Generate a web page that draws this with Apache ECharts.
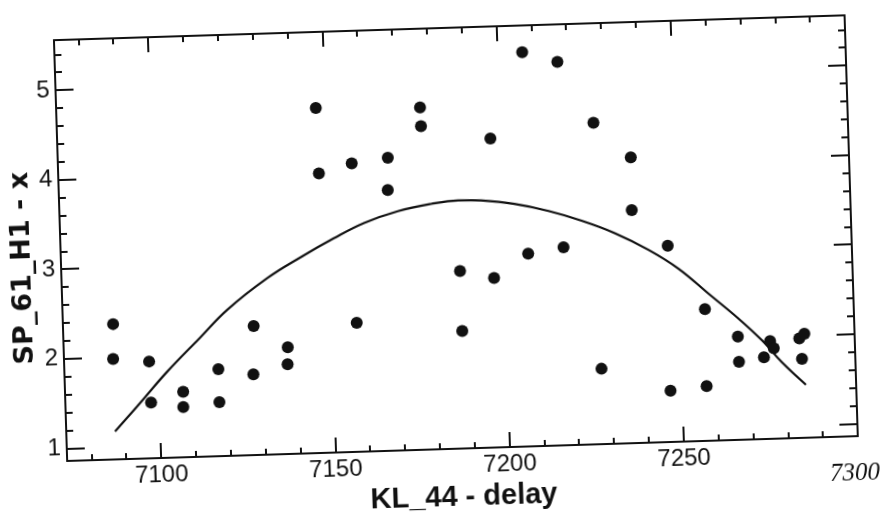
<!DOCTYPE html>
<html>
<head>
<meta charset="utf-8">
<title>SP_61_H1 - x vs KL_44 - delay</title>
<script src="https://cdn.jsdelivr.net/npm/echarts@6/dist/echarts.min.js"></script>
<style>
html, body { margin: 0; padding: 0; background: #fff; overflow: hidden; }
/* the scanned plot sits slightly tilted on the page */
#main { width: 890px; height: 517px; transform: rotate(-1.8deg); transform-origin: 50% 50%; }
</style>
</head>
<body>
<div id="main"></div>
<script>
// measured points
var delay = [7087.4, 7087.1, 7097.4, 7097.6, 7106.9, 7106.8, 7117.2, 7117.2, 7127.7, 7127.2,
  7137.3, 7137.1, 7147.5, 7147.8, 7157.3, 7157.3, 7167.7, 7167.4, 7177.4, 7177.5,
  7187.4, 7187.5, 7197.3, 7197.1, 7207.2, 7207.1, 7217.2, 7217.3, 7227.0, 7227.1,
  7237.4, 7237.2, 7247.2, 7246.7, 7257.3, 7257.1, 7266.5, 7266.6, 7275.7, 7276.7,
  7273.8, 7284.1, 7285.6, 7284.7];
var spx = [2.37, 1.98, 1.94, 1.48, 1.59, 1.42, 1.83, 1.46, 2.30, 1.76,
  2.05, 1.86, 4.71, 3.98, 4.08, 2.30, 4.13, 3.77, 4.68, 4.47,
  2.84, 2.17, 4.31, 2.75, 5.26, 3.01, 5.14, 3.07, 4.45, 1.70,
  4.05, 3.46, 3.05, 1.43, 2.33, 1.47, 2.01, 1.73, 1.95, 1.87,
  1.77, 1.97, 2.02, 1.74];

// fitted curve
var fitDelay = [7087.0, 7095.4, 7102.5, 7112.3, 7120.3, 7132.1, 7141.8, 7151.5, 7160.3,
  7170.1, 7179.7, 7187.5, 7194.1, 7203.6, 7213.3, 7222.7, 7232.1, 7241.7, 7250.1,
  7258.5, 7266.9, 7273.4, 7278.9, 7285.6];
var fitX = [1.17, 1.52, 1.82, 2.19, 2.49, 2.83, 3.05, 3.25, 3.41,
  3.53, 3.60, 3.63, 3.62, 3.57, 3.48, 3.36, 3.21, 3.01, 2.79,
  2.50, 2.21, 1.96, 1.71, 1.45];

// ticks
var xMajor = [7100, 7150, 7200, 7250];
var xMinor = [7080, 7090, 7110, 7120, 7130, 7140, 7160, 7170, 7180, 7190,
  7210, 7220, 7230, 7240, 7260, 7270, 7280, 7290];
var yMajor = [1, 2, 3, 4, 5];
var yMinor = [1.2, 1.4, 1.6, 1.8, 2.2, 2.4, 2.6, 2.8, 3.2, 3.4, 3.6, 3.8,
  4.2, 4.4, 4.6, 4.8, 5.2, 5.4];

var ink = "#111";

function frameAxis(kind, position, ticks, len, withLine, labels) {
  var axis = {
    type: "value",
    position: position,
    min: kind === "x" ? 7073 : 0.857,
    max: kind === "x" ? 7300 : 5.56,
    axisLine: { show: withLine, onZero: false, lineStyle: { color: ink, width: 2 } },
    axisTick: {
      show: true,
      inside: true,
      length: len,
      customValues: ticks,
      lineStyle: { color: ink, width: 2 }
    },
    axisLabel: { show: false },
    splitLine: { show: false }
  };
  if (labels) {
    axis.axisLabel = {
      show: true,
      customValues: labels,
      formatter: function (v) { return String(v); },
      color: ink,
      fontFamily: "Liberation Sans",
      fontSize: 24,
      margin: kind === "x" ? 5 : 6
    };
  }
  return axis;
}

var xAxes = [
  frameAxis("x", "bottom", xMajor, 15, true, xMajor),
  frameAxis("x", "bottom", xMinor, 6, false),
  frameAxis("x", "top", xMajor, 15, true),
  frameAxis("x", "top", xMinor, 6, false)
];
xAxes[0].name = "KL_44 - delay";
xAxes[0].nameLocation = "middle";
xAxes[0].nameGap = 42;
xAxes[0].nameTextStyle = {
  color: ink,
  fontFamily: "Liberation Sans",
  fontWeight: "bold",
  fontSize: 29,
  verticalAlign: "middle"
};

var yAxes = [
  frameAxis("y", "left", yMajor, 18, true, yMajor),
  frameAxis("y", "left", yMinor, 7, false),
  frameAxis("y", "right", yMajor, 18, true),
  frameAxis("y", "right", yMinor, 7, false)
];

var points = delay.map(function (d, i) { return [d, spx[i]]; });
var fit = fitDelay.map(function (d, i) { return [d, fitX[i]]; });

var myChart = echarts.init(document.getElementById("main"));
myChart.setOption({
  animation: false,
  backgroundColor: "#fff",
  grid: { left: 61, right: 38, top: 28, bottom: 66 },
  xAxis: xAxes,
  yAxis: yAxes,
  graphic: [
    {
      type: "text",
      x: 23,
      y: 255,
      rotation: Math.PI / 2,
      style: {
        text: "SP_61_H1 - x",
        fill: ink,
        font: 'bold 27px "DejaVu Sans"',
        align: "center",
        verticalAlign: "middle",
        textAlign: "center",
        textVerticalAlign: "middle"
      }
    },
    {
      // handwritten note at the right end of the axis
      type: "text",
      x: 848,
      y: 486,
      style: {
        text: "7300",
        fill: ink,
        font: 'italic 25px "Liberation Serif"',
        align: "center",
        verticalAlign: "middle",
        textAlign: "center",
        textVerticalAlign: "middle"
      }
    }
  ],
  series: [
    {
      name: "fit",
      type: "line",
      data: fit,
      smooth: 0.4,
      showSymbol: false,
      lineStyle: { color: ink, width: 2.2 },
      z: 2
    },
    {
      name: "SP_61_H1 - x",
      type: "scatter",
      data: points,
      symbol: "circle",
      symbolSize: 12,
      itemStyle: { color: ink, opacity: 1 },
      z: 3
    }
  ]
});
</script>
</body>
</html>
